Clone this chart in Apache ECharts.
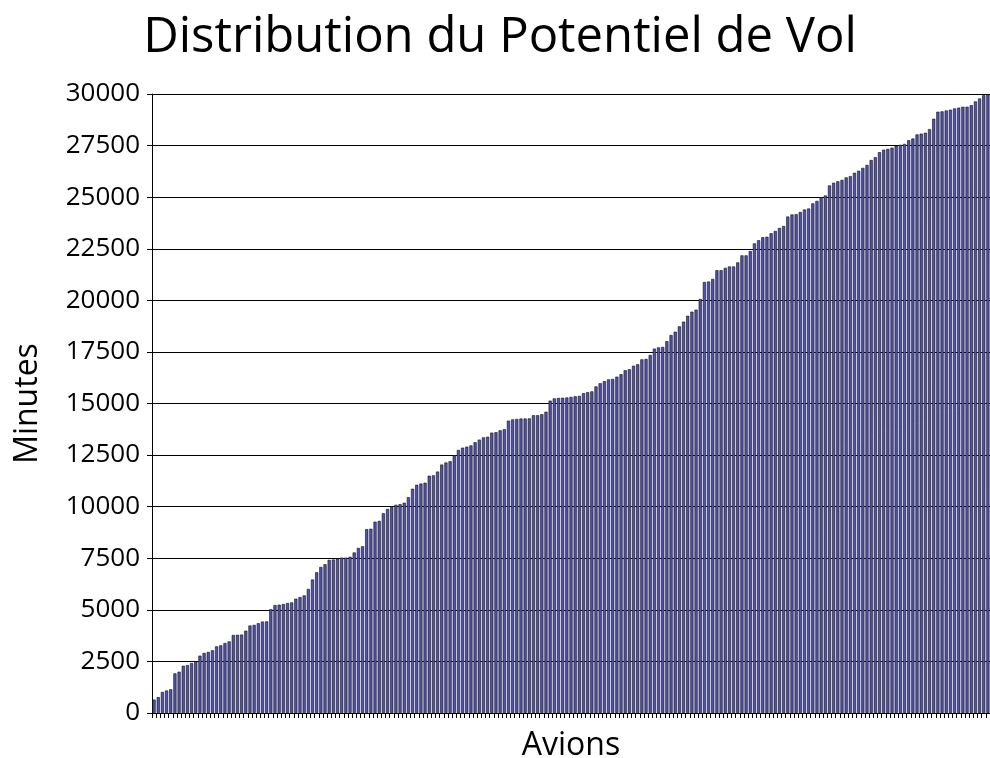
<!DOCTYPE html>
<html>
<head>
<meta charset="utf-8">
<script src="https://cdn.jsdelivr.net/npm/echarts@6/dist/echarts.min.js"></script>
<style>html,body{margin:0;padding:0;background:#fff;}#chart{width:990px;height:758px;}</style>
</head>
<body>
<div id="chart"></div>
<script>
var titleText = 'Distribution du Potentiel de Vol';
var xName = 'Avions';
var yName = 'Minutes';
var yTicks = [0, 2500, 5000, 7500, 10000, 12500, 15000, 17500, 20000, 22500, 25000, 27500, 30000];
var minutes = [
  650, 770, 1020, 1090, 1150, 1920, 2000, 2290, 2320, 2420,
  2500, 2780, 2910, 2960, 3040, 3230, 3280, 3390, 3470, 3780,
  3790, 3800, 3990, 4240, 4270, 4350, 4430, 4440, 5030, 5230,
  5250, 5280, 5330, 5360, 5540, 5620, 5700, 6010, 6470, 6820,
  7080, 7210, 7420, 7440, 7470, 7530, 7530, 7570, 7780, 8000,
  8080, 8910, 8930, 9270, 9310, 9680, 9890, 9990, 10090, 10120,
  10190, 10460, 10870, 11060, 11120, 11160, 11500, 11520, 11700, 12040,
  12140, 12200, 12490, 12750, 12860, 12910, 12970, 13120, 13250, 13360,
  13390, 13590, 13610, 13700, 13750, 14170, 14230, 14250, 14270, 14270,
  14280, 14430, 14430, 14480, 14600, 15140, 15250, 15270, 15280, 15290,
  15320, 15350, 15370, 15500, 15550, 15590, 15830, 15980, 16080, 16170,
  16190, 16300, 16420, 16610, 16660, 16830, 16900, 17140, 17160, 17350,
  17660, 17720, 17740, 18020, 18320, 18480, 18740, 18970, 19250, 19450,
  19550, 20070, 20890, 20910, 21040, 21460, 21460, 21575, 21640, 21640,
  21840, 22180, 22180, 22390, 22760, 22910, 23060, 23080, 23250, 23360,
  23510, 23600, 24060, 24160, 24180, 24280, 24400, 24450, 24700, 24820,
  25000, 25080, 25570, 25700, 25770, 25840, 25960, 26020, 26180, 26280,
  26420, 26560, 26800, 26940, 27180, 27300, 27340, 27400, 27500, 27540,
  27580, 27760, 27840, 28040, 28080, 28120, 28300, 28800, 29140, 29160,
  29200, 29240, 29300, 29340, 29380, 29380, 29460, 29640, 29780, 29940,
  29980
];
var avions = minutes.map(function (v, i) { return String(i + 1); });

var FONT = 'Open Sans';
var chart = echarts.init(document.getElementById('chart'), null, {renderer: 'canvas'});
chart.setOption({
  animation: false,
  backgroundColor: '#fff',
  title: {
    text: titleText,
    left: 495, top: 9,
    textAlign: 'center',
    textStyle: {fontFamily: FONT, fontSize: 49, fontWeight: 'normal', color: '#000'}
  },
  grid: {left: 152, width: 838, top: 94, height: 619, containLabel: false, outerBoundsMode: 'none'},
  xAxis: {
    type: 'category',
    data: avions,
    name: xName,
    nameLocation: 'middle',
    nameGap: 17,
    nameTextStyle: {fontFamily: FONT, fontSize: 32, color: '#000'},
    axisLine: {show: true, lineStyle: {color: '#000', width: 1}},
    axisTick: {show: true, interval: 0, length: 5, lineStyle: {color: '#000'}},
    axisLabel: {show: false},
    splitLine: {show: false}
  },
  yAxis: {
    type: 'value',
    min: yTicks[0], max: yTicks[yTicks.length - 1], interval: 2500,
    name: yName,
    nameLocation: 'middle',
    nameGap: 108,
    nameTextStyle: {fontFamily: FONT, fontSize: 32, color: '#000'},
    axisLine: {show: true, lineStyle: {color: '#000', width: 1}},
    axisTick: {show: true, length: 5, lineStyle: {color: '#000'}},
    axisLabel: {fontFamily: FONT, fontSize: 26, color: '#000', margin: 12,
      formatter: function (v) { return String(v); }},
    splitLine: {show: true, lineStyle: {color: '#000', width: 1}}
  },
  series: [{
    type: 'bar',
    data: minutes,
    barCategoryGap: '25%',
    itemStyle: {color: '#5050b0', borderColor: '#111', borderWidth: 0.6}
  }]
});
</script>
</body>
</html>
